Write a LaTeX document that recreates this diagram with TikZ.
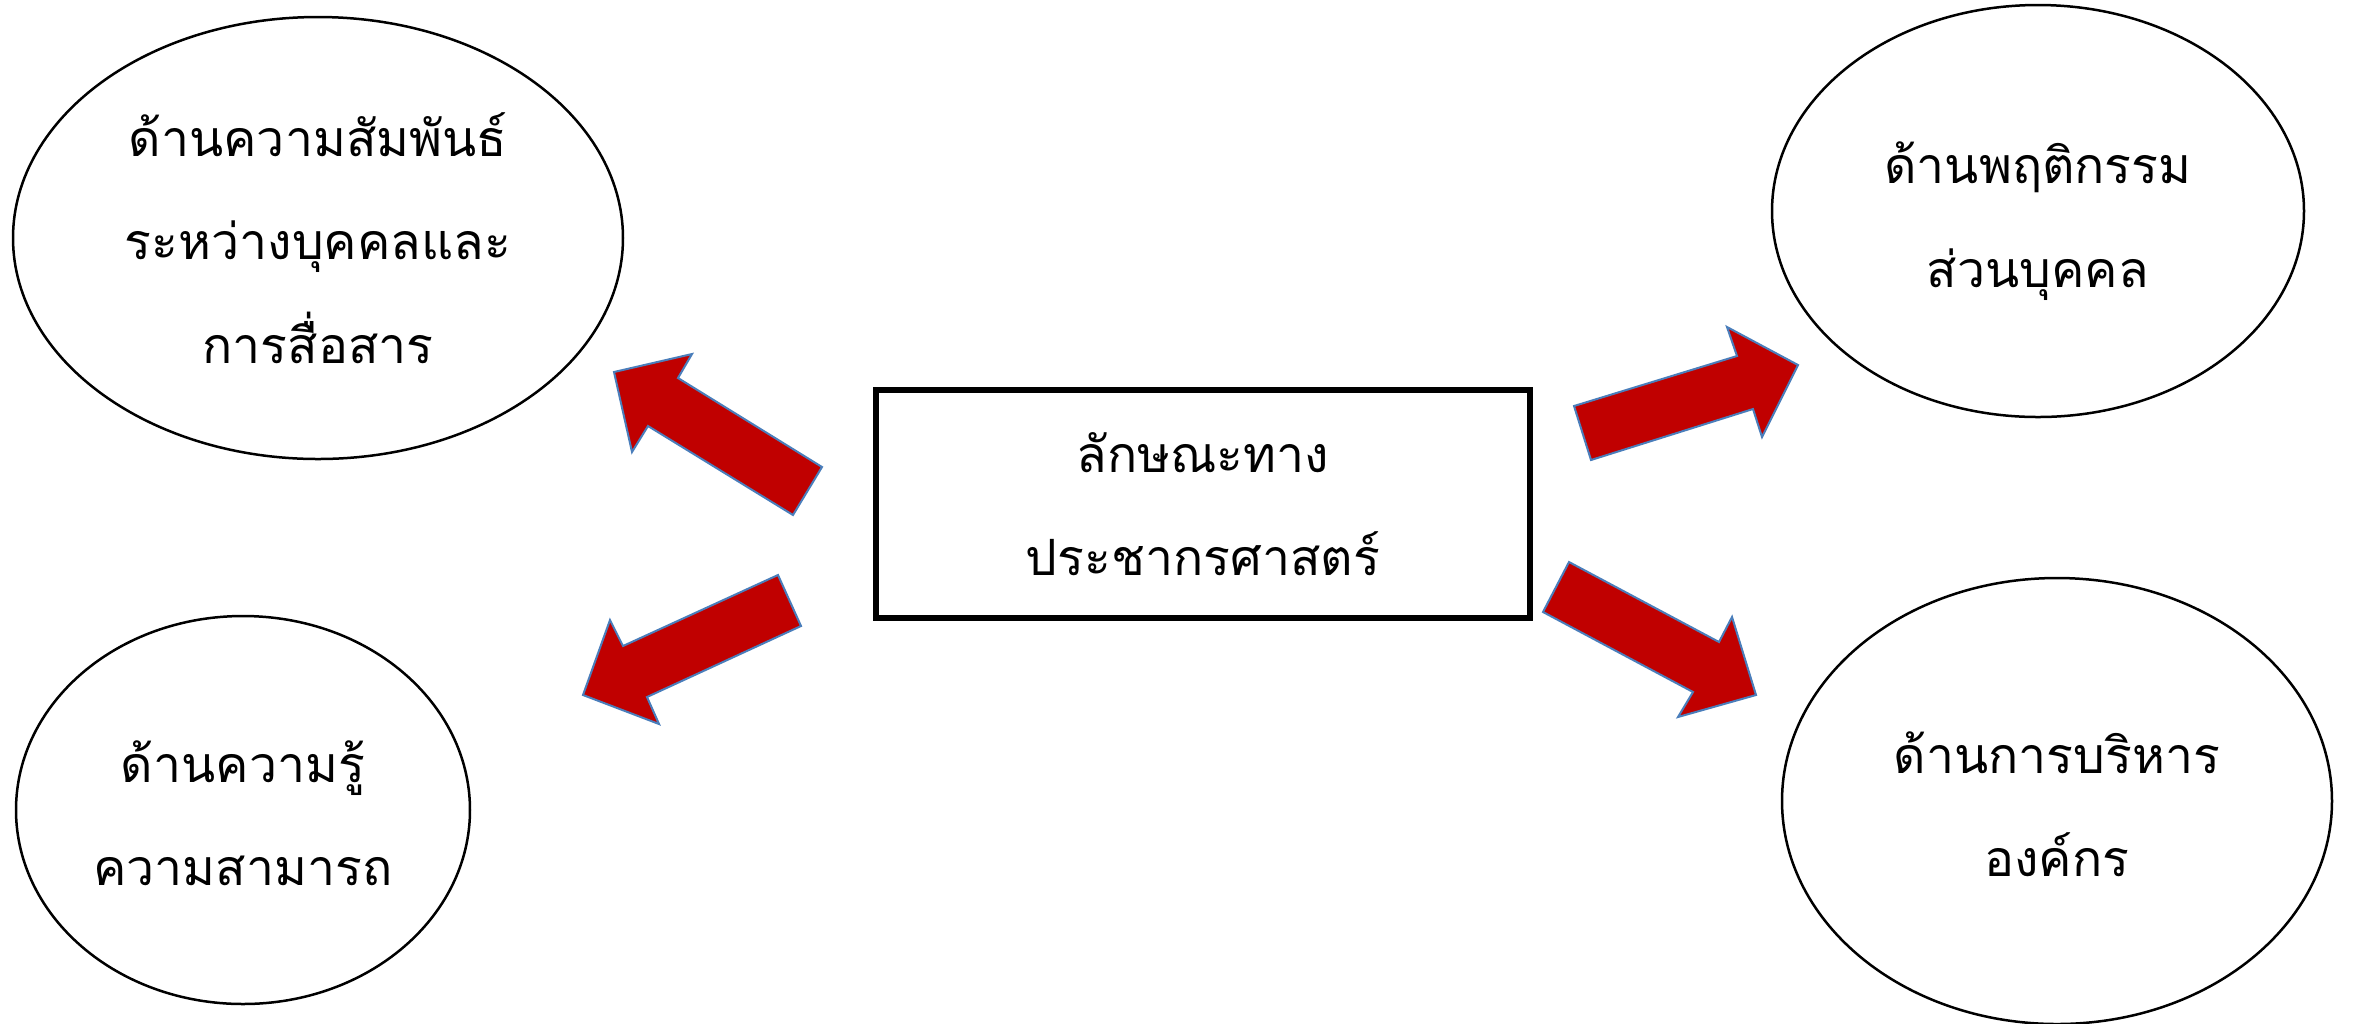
\documentclass[tikz,border=0pt]{standalone}
\usepackage{fontspec}
\newfontfamily\thaifont[Script=Thai]{Loma}
\usetikzlibrary{shapes.geometric}
\definecolor{arrowred}{HTML}{C00000}
\definecolor{arrowedge}{HTML}{4A7EBB}
\tikzset{
  bubble/.style={draw=black, line width=0.75pt, ellipse, inner sep=0pt},
  centerbox/.style={draw=black, line width=1.6pt, rectangle, inner sep=0pt},
  thaitext/.style={align=center, inner sep=0pt,
    font=\thaifont\fontsize{15}{31}\selectfont},
  blockarrow/.style={fill=arrowred, draw=arrowedge, line width=0.6pt, line join=miter}
}
\begin{document}
\begin{tikzpicture}[x=0.3pt,y=-0.3pt]
\useasboundingbox (0,0) rectangle (2354,1023);
% ellipses
\node[bubble, minimum width=183pt, minimum height=132.6pt] (rel) at (318,238) {};
\node[thaitext] (relt) at (rel.center) {ด้านความสัมพันธ์\\ระหว่างบุคคลและ\\การสื่อสาร};
\node[bubble, minimum width=136.2pt, minimum height=116.4pt] (know) at (243,810) {};
\node[thaitext] (knowt) at ([yshift=-1pt]know.center) {ด้านความรู้\\ความสามารถ};
\node[bubble, minimum width=159.6pt, minimum height=123.6pt] (beh) at (2038,211) {};
\node[thaitext] (beht) at ([yshift=-3pt]beh.center) {ด้านพฤติกรรม\\ส่วนบุคคล};
\node[bubble, minimum width=165pt, minimum height=133.8pt] (adm) at (2057,801) {};
\node[thaitext] (admt) at ([yshift=-1pt]adm.center) {ด้านการบริหาร\\องค์กร};
% center box
\node[centerbox, minimum width=196.2pt, minimum height=68.4pt] (demo) at (1203,504) {};
\node[thaitext] (demot) at (demo.center) {ลักษณะทาง\\ประชากรศาสตร์};
% block arrows
\draw[blockarrow] (614,372) -- (692,354) -- (678,378) -- (822,467) -- (793,515)
  -- (648,426) -- (632,452) -- cycle;
\draw[blockarrow] (583,695) -- (610,620) -- (623,646) -- (778,575) -- (801,626)
  -- (647,697) -- (659,724) -- cycle;
\draw[blockarrow] (1574,406) -- (1737,356) -- (1727,327) -- (1798,365) -- (1762,437)
  -- (1753,409) -- (1591,460) -- cycle;
\draw[blockarrow] (1569,562) -- (1719,642) -- (1732,617) -- (1756,695) -- (1678,717)
  -- (1693,692) -- (1543,612) -- cycle;
\end{tikzpicture}
\end{document}
